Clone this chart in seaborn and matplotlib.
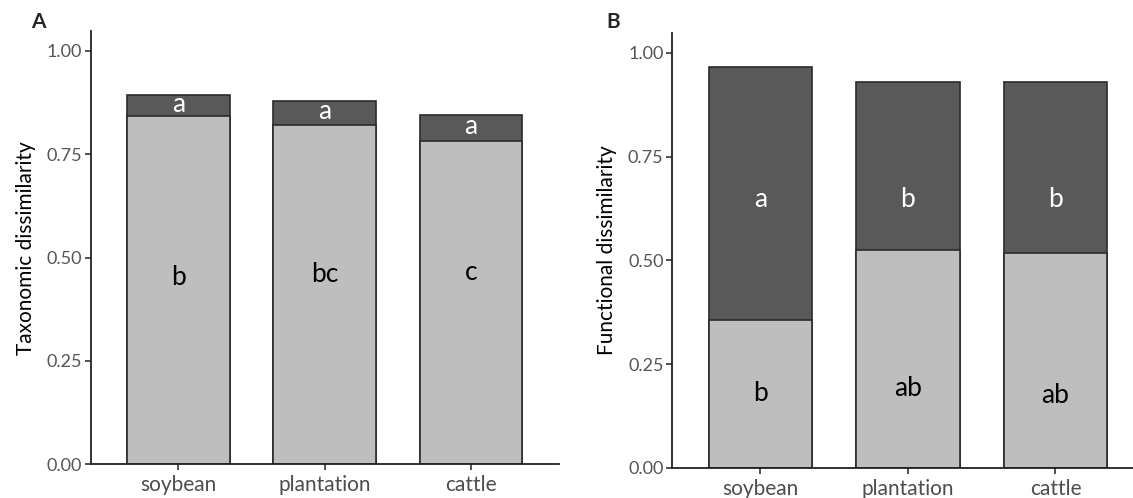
import numpy as np
import matplotlib.pyplot as plt
import pandas as pd
import seaborn as sns

# land uses on the x axis
land_use = ["soybean", "plantation", "cattle"]

# panel A: taxonomic dissimilarity (lower part and total height of the stack)
tax_lower = [0.842, 0.821, 0.781]
tax_total = [0.893, 0.878, 0.845]
tax_lower_letters = ["b", "bc", "c"]
tax_upper_letters = ["a", "a", "a"]

# panel B: functional dissimilarity
fun_lower = [0.356, 0.525, 0.517]
fun_total = [0.965, 0.929, 0.929]
fun_lower_letters = ["b", "ab", "ab"]
fun_upper_letters = ["a", "b", "b"]

y_ticks = [0.00, 0.25, 0.50, 0.75, 1.00]

sns.set_theme(style="white")
plt.rcParams['font.family'] = ['Lato', 'DejaVu Sans']

dark = "#595959"
light = "#bebebe"
edge = "#2b2b2b"


def stacked_panel(ax, lower, total, low_letters, up_letters, ylabel, low_y, up_y):
    df = pd.DataFrame({"land_use": land_use, "lower": lower, "total": total})
    sns.barplot(data=df, x="land_use", y="total", color=dark, width=0.7,
                edgecolor=edge, linewidth=1.2, saturation=1, ax=ax)
    sns.barplot(data=df, x="land_use", y="lower", color=light, width=0.7,
                edgecolor=edge, linewidth=1.2, saturation=1, ax=ax)

    for i in range(len(land_use)):
        ax.text(i, low_y[i], low_letters[i], ha="center", va="center",
                fontsize=19, color="black")
        ax.text(i, up_y[i], up_letters[i], ha="center", va="center",
                fontsize=19, color="white")

    ax.set_xlim(-0.6, 2.6)
    ax.set_ylim(0, 1.048)
    ax.set_yticks(y_ticks)
    ax.set_yticklabels(["{:.2f}".format(t) for t in y_ticks])
    ax.set_xlabel("")
    ax.set_ylabel(ylabel, fontsize=15, color="black", labelpad=8)
    ax.tick_params(axis="y", labelsize=13, labelcolor="#555555", length=4,
                   width=1.2, color="#333333", direction="out", left=True, pad=2)
    ax.tick_params(axis="x", labelsize=15, labelcolor="#4d4d4d", length=4,
                   width=1.2, color="#333333", direction="out", bottom=True, pad=4)
    sns.despine(ax=ax)
    for s in ["left", "bottom"]:
        ax.spines[s].set_color("#222222")
        ax.spines[s].set_linewidth(1.3)


fig = plt.figure(figsize=(11.33, 4.98), dpi=100)
ax1 = fig.add_axes([0.080, 0.0677, 0.413, 0.870])
ax2 = fig.add_axes([0.593, 0.0608, 0.4167, 0.873])

# letters sit in the middle of each segment, roughly as in the figure
tax_low_y = [0.453, 0.458, 0.463]
tax_up_y = [(l + t) / 2 + 0.003 for l, t in zip(tax_lower, tax_total)]
fun_low_y = [0.18, 0.192, 0.175]
fun_up_y = [0.647, 0.647, 0.647]

stacked_panel(ax1, tax_lower, tax_total, tax_lower_letters, tax_upper_letters,
              "Taxonomic dissimilarity", tax_low_y, tax_up_y)
stacked_panel(ax2, fun_lower, fun_total, fun_lower_letters, fun_upper_letters,
              "Functional dissimilarity", fun_low_y, fun_up_y)

fig.text(38 / 1133, 1 - 22 / 498, "A", fontsize=15, fontweight="bold", ha="center", va="center")
fig.text(613 / 1133, 1 - 22 / 498, "B", fontsize=15, fontweight="bold", ha="center", va="center")

fig.savefig("out.png", dpi=100)
